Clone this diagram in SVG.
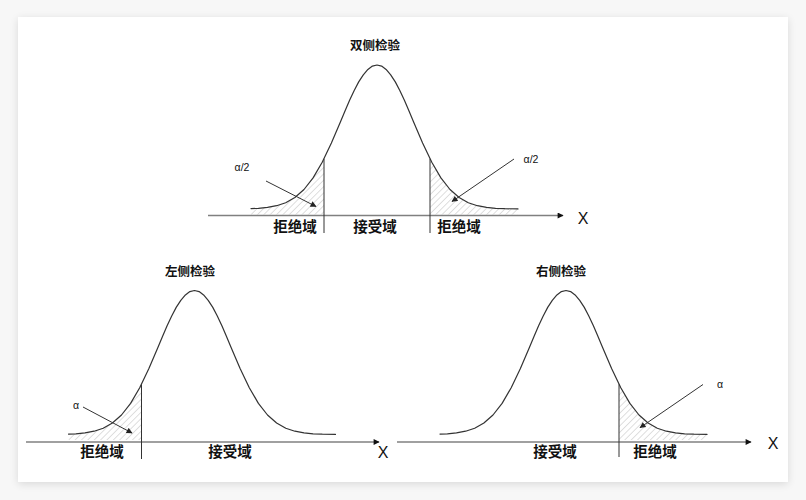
<svg xmlns="http://www.w3.org/2000/svg" xmlns:xlink="http://www.w3.org/1999/xlink" width="806" height="500" viewBox="0 0 806 500">
<style>
.curve{fill:none;stroke:#333;stroke-width:1.2;stroke-linejoin:round;stroke-linecap:round}
.axis{fill:none;stroke:#808080;stroke-width:1.5}
.vline{fill:none;stroke:#333;stroke-width:1}
.ann{fill:none;stroke:#333;stroke-width:1}
.hatch{fill:url(#hp);stroke:none}
.lbl{font-family:"Noto Sans CJK SC","Noto Sans",sans-serif;font-size:14.5px;fill:#111;text-anchor:middle;font-weight:bold}
.ttl{font-family:"Noto Sans CJK SC","Noto Sans",sans-serif;font-size:12.5px;fill:#111;text-anchor:middle;font-weight:bold}
.x{font-family:"Liberation Sans",Arial,sans-serif;font-size:16px;fill:#111;text-anchor:middle}
.a{font-family:"Liberation Sans",Arial,sans-serif;font-size:10.5px;fill:#111;text-anchor:middle}
</style>
<defs>
<filter id="sh" x="-5%" y="-5%" width="110%" height="110%"><feGaussianBlur stdDeviation="4"/></filter>
<pattern id="hp" patternUnits="userSpaceOnUse" width="4.5" height="4.5" patternTransform="rotate(45)">
<line x1="0" y1="0" x2="0" y2="4.5" stroke="#b8b8b8" stroke-width="0.9"/>
</pattern>
<marker id="ah" viewBox="0 0 10 10" refX="9" refY="5" markerWidth="8" markerHeight="6" markerUnits="userSpaceOnUse" orient="auto"><path d="M0,0 L10,5 L0,10 Z" fill="#222"/></marker>
<marker id="axh" viewBox="0 0 10 10" refX="9" refY="5" markerWidth="7" markerHeight="6" markerUnits="userSpaceOnUse" orient="auto"><path d="M0,0 L10,5 L0,10 Z" fill="#111"/></marker>
<path id="curve" class="curve" d="M-126,-0.4 L-118.6,-0.7 L-109.5,-1.6 L-100.4,-3.3 L-91.3,-6.3 L-82.1,-11.5 L-73,-19.5 L-63.9,-31.1 L-54.8,-46.8 L-45.6,-65.9 L-36.5,-87.3 L-31.9,-98.2 L-27.4,-108.7 L-22.8,-118.5 L-18.3,-127.1 L-13.7,-134.2 L-9.1,-139.6 L-4.6,-142.9 L0,-144 L4.6,-142.9 L9.1,-139.6 L13.7,-134.2 L18.3,-127.1 L22.8,-118.5 L27.4,-108.7 L31.9,-98.2 L36.5,-87.3 L45.6,-65.9 L54.8,-46.8 L63.9,-31.1 L73,-19.5 L82.1,-11.5 L91.3,-6.3 L100.4,-3.3 L109.5,-1.6 L118.6,-0.7 L127.8,-0.3 L141,-0.1"/>
<polygon id="hatchL" class="hatch" points="-126,5.5 -126,-0.4 -118.6,-0.7 -109.5,-1.6 -100.4,-3.3 -91.3,-6.3 -82.1,-11.5 -73,-19.5 -63.9,-31.1 -53,-50.2 -53,5.5"/>
<polygon id="hatchR" class="hatch" points="53,5.5 53,-50.2 63.9,-31.1 73,-19.5 82.1,-11.5 91.3,-6.3 100.4,-3.3 109.5,-1.6 118.6,-0.7 127.8,-0.3 141,-0.1 141,5.5"/>
</defs>
<rect x="0" y="0" width="806" height="500" fill="#f7f7f7"/>
<rect x="18" y="19" width="770" height="465" fill="#000" opacity="0.12" filter="url(#sh)"/>
<rect x="18" y="17" width="770" height="465" fill="#fff"/>

<g id="two-sided">
<use xlink:href="#hatchL" transform="translate(377,209)"/>
<use xlink:href="#hatchR" transform="translate(377,209)"/>
<use xlink:href="#curve" transform="translate(377,209)"/>
<text class="ttl" x="375" y="50">双侧检验</text>
<text class="lbl" x="295" y="232">拒绝域</text>
<text class="lbl" x="375" y="232">接受域</text>
<text class="lbl" x="459" y="232">拒绝域</text>
<text class="x" x="583" y="223.5">X</text>
<text class="a" x="242" y="170.5">α/2</text>
<text class="a" x="531" y="163">α/2</text>
</g>

<g id="left-sided">
<use xlink:href="#hatchL" transform="translate(194.5,434.5)"/>
<use xlink:href="#curve" transform="translate(194.5,434.5)"/>
<text class="ttl" x="190" y="276">左侧检验</text>
<text class="lbl" x="102" y="457">拒绝域</text>
<text class="lbl" x="230" y="457">接受域</text>
<text class="x" x="383" y="457.5">X</text>
<text class="a" x="76" y="409">α</text>
</g>

<g id="right-sided">
<use xlink:href="#hatchR" transform="translate(566,434.5)"/>
<use xlink:href="#curve" transform="translate(566,434.5)"/>
<text class="ttl" x="561" y="276">右侧检验</text>
<text class="lbl" x="555" y="457">接受域</text>
<text class="lbl" x="655" y="457">拒绝域</text>
<text class="x" x="773" y="448.5">X</text>
<text class="a" x="720" y="388">α</text>
</g>

<g id="connectors">
<line class="axis" x1="208" y1="215.5" x2="563" y2="215.5" marker-end="url(#axh)"/>
<line class="vline" x1="324" y1="158.8" x2="324" y2="233"/>
<line class="vline" x1="430" y1="158.8" x2="430" y2="233"/>
<line class="ann" x1="266" y1="181" x2="316" y2="206.5" marker-end="url(#ah)"/>
<line class="ann" x1="514" y1="159" x2="452" y2="201.5" marker-end="url(#ah)"/>

<line class="axis" x1="26" y1="442" x2="379" y2="442" marker-end="url(#axh)"/>
<line class="vline" x1="141.5" y1="384.3" x2="141.5" y2="459"/>
<line class="ann" x1="83" y1="407" x2="132" y2="433" marker-end="url(#ah)"/>

<line class="axis" x1="397" y1="442" x2="751" y2="442" marker-end="url(#axh)"/>
<line class="vline" x1="619" y1="384.3" x2="619" y2="457"/>
<line class="ann" x1="703" y1="384.5" x2="640" y2="427.7" marker-end="url(#ah)"/>
</g>
</svg>
